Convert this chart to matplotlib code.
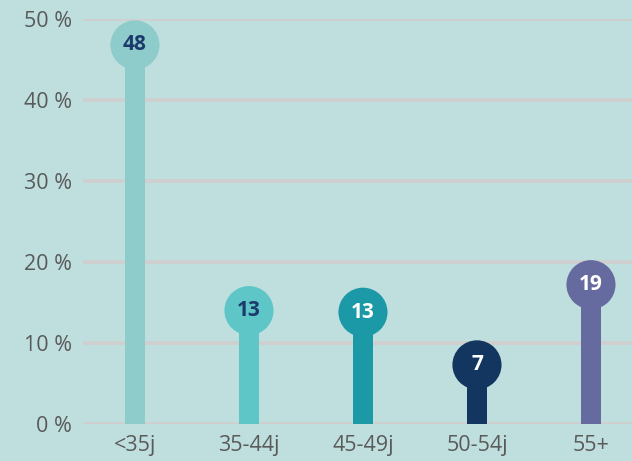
import matplotlib.pyplot as plt

# Данные
categories = ['<35j', '35-44j', '45-49j', '50-54j', '55+']
percent = [46.8, 14.0, 13.8, 7.3, 17.2]
labels = ['48', '13', '13', '7', '19']
colors = ['#8ecbcb', '#5ec6c6', '#1c99a6', '#12365f', '#656b9e']
text_colors = ['#1b3a6b', '#1b3a6b', 'white', 'white', 'white']
yticks = [0, 10, 20, 30, 40, 50]

plt.rcParams['font.family'] = ['Open Sans', 'DejaVu Sans']

bg = '#bfdfdf'
fig = plt.figure(figsize=(6.32, 4.61), dpi=100, facecolor=bg)
ax = fig.add_axes([83 / 632, 1 - 424 / 461, 549 / 632, 405 / 461])
ax.set_facecolor(bg)

x = list(range(len(categories)))
ax.bar(x, percent, width=0.175, color=colors, zorder=3)
ax.scatter(x, percent, s=1250, c=colors, zorder=4, linewidths=0)
for xi, p, lab, tc in zip(x, percent, labels, text_colors):
    ax.text(xi, p, lab, ha='center', va='center', color=tc,
            fontsize=15, fontweight='bold', zorder=5)

ax.set_ylim(0, 50)
ax.set_xlim(-0.456, 4.36)
ax.set_yticks(yticks)
ax.set_yticklabels([f'{t} %' for t in yticks])
ax.set_xticks(x)
ax.set_xticklabels(categories)
ax.tick_params(length=0, labelsize=15.5, labelcolor='#5a5a5a')
ax.tick_params(axis='y', pad=8)
ax.tick_params(axis='x', pad=8)
ax.grid(axis='y', color='#cfcfcf', linewidth=2.8, zorder=1)
ax.set_axisbelow(True)
for s in ax.spines.values():
    s.set_visible(False)

fig.savefig('out.png', dpi=100, facecolor=bg)
